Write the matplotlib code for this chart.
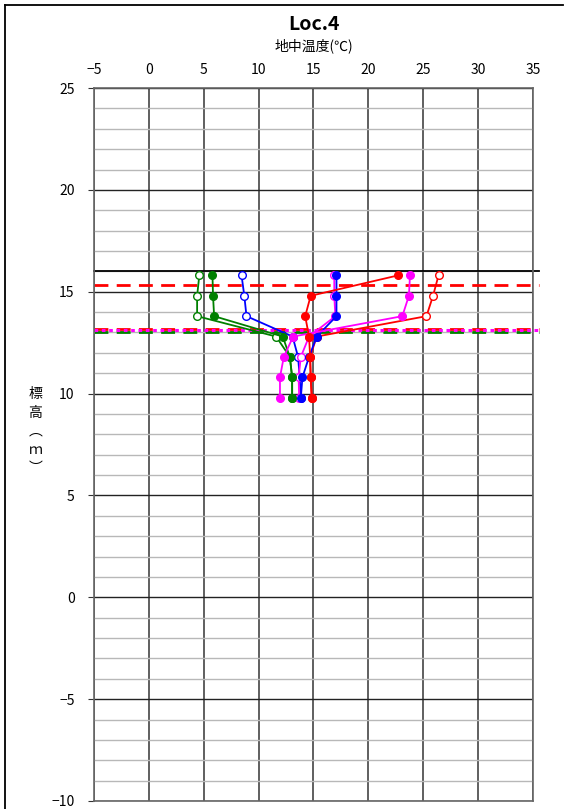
import numpy as np
import matplotlib
matplotlib.use("Agg")
import matplotlib.pyplot as plt

plt.rcParams['font.family'] = ['Noto Sans CJK JP', 'DejaVu Sans']

# depth levels (標高, m)
elev = [15.8, 14.8, 13.8, 12.8, 11.8, 10.8, 9.8]

# ground temperatures per series
green_open = [4.6, 4.4, 4.4, 11.6, 12.85, 13.06, 13.06]
green_fill = [5.8, 5.85, 5.95, 12.2, 12.85, 13.06, 13.06]
blue_open = [8.45, 8.7, 8.9, 13.1, 13.6, 13.75, 13.85]
blue_fill = [17.1, 17.1, 17.1, 15.3, 14.6, 14.0, 13.85]
mag_open = [16.9, 16.9, 17.0, 14.6, 13.85, 13.65, 13.7]
mag_fill = [23.8, 23.7, 23.1, 13.15, 12.3, 11.95, 11.95]
red_open = [26.4, 25.9, 25.3, 15.3, 14.7, 14.75, 14.85]
red_fill = [22.7, 14.75, 14.25, 14.6, 14.7, 14.75, 14.85]

# reference levels (ground surface / water levels)
ground_level = 16.0
red_level_hi = 15.33
red_level_lo = 13.17
mag_level = 13.12
green_level = 13.0

fig = plt.figure(figsize=(5.73, 8.09), dpi=100)
ax = fig.add_axes([0.164, 0.0099, 0.766, 0.8813])

ax.set_xlim(-5, 35)
ax.set_ylim(-10, 25)
ax.set_xticks(np.arange(-5, 36, 5))
ax.set_yticks(np.arange(-10, 26, 5))
ax.set_yticks(np.arange(-10, 26, 1), minor=True)
ax.xaxis.tick_top()
ax.tick_params(axis='x', which='both', length=0, labelsize=10, pad=8)
ax.tick_params(axis='y', which='major', length=4, direction='out', labelsize=10, pad=10, color='#333333')
ax.tick_params(axis='y', which='minor', length=0)

ax.grid(axis='y', which='minor', color='#b8b8b8', lw=1.0)
ax.grid(axis='y', which='major', color='#222222', lw=1.0)
ax.grid(axis='x', which='major', color='#444444', lw=1.2)
ax.set_axisbelow(True)
for s in ax.spines.values():
    s.set_color('#666666')
    s.set_linewidth(1.2)

xr = [-5, 35.6]
ax.plot(xr, [ground_level] * 2, color='black', lw=1.3, clip_on=False, zorder=2)
ax.plot(xr, [red_level_hi] * 2, color='red', lw=2, ls=(0, (5, 3)), clip_on=False, zorder=2)
ax.plot(xr, [green_level] * 2, color='#008000', lw=2, ls=(0, (5, 3)), clip_on=False, zorder=2)
ax.plot(xr, [red_level_lo] * 2, color='red', lw=2, ls=(0, (5, 3)), clip_on=False, zorder=2)
ax.plot(xr, [mag_level] * 2, color='magenta', lw=2.2, ls=(0, (1.2, 1.2)), clip_on=False, zorder=2)

series = [
    (green_open, '#008000', 'white'),
    (blue_open, 'blue', 'white'),
    (mag_open, 'magenta', 'white'),
    (red_open, 'red', 'white'),
    (green_fill, '#008000', '#008000'),
    (blue_fill, 'blue', 'blue'),
    (mag_fill, 'magenta', 'magenta'),
    (red_fill, 'red', 'red'),
]
for vals, col, face in series:
    ax.plot(vals, elev, color=col, lw=1.3, marker='o', ms=5.5,
            markerfacecolor=face, markeredgecolor=col, markeredgewidth=1.0, zorder=3)

fig.text(0.548, 0.970, 'Loc.4', ha='center', va='center', fontsize=14, fontweight='bold')
fig.text(0.548, 0.944, '地中温度(℃)', ha='center', va='center', fontsize=10)
fig.text(0.062, 0.467, '標\n高\n︵\nｍ\n︶', ha='center', va='center', fontsize=10, linespacing=1.4)

# outer frame (left and top)
fig.add_artist(plt.Line2D([0.009, 0.009], [0, 0.994], color='black', lw=1.3))
fig.add_artist(plt.Line2D([0.009, 0.983], [0.994, 0.994], color='black', lw=1.3))

fig.savefig('out.png', dpi=100)
